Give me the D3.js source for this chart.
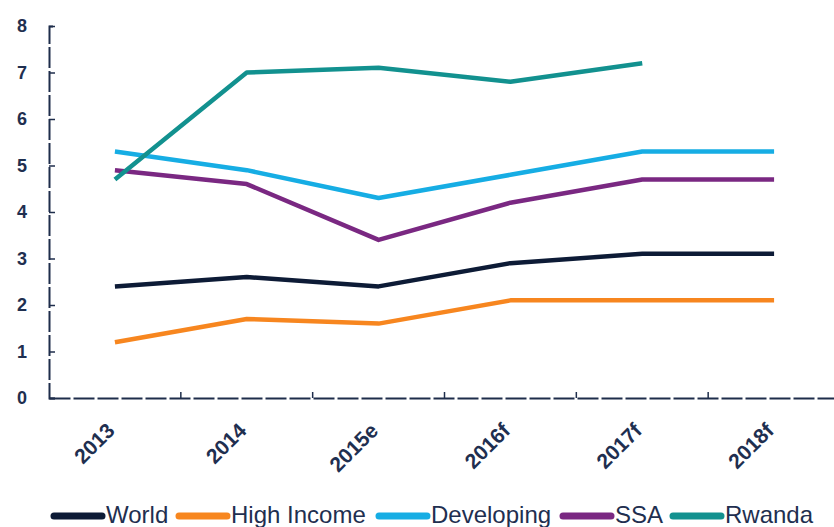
<!DOCTYPE html>
<html>
<head>
<meta charset="utf-8">
<script src="https://cdn.jsdelivr.net/npm/d3@7"></script>
<style>
    body { margin: 0; background: #fff; }
    svg { display: block; }
</style>
</head>
<body>
<div id="chart"></div>
<script>
// chart values
const years = ['2013', '2014', '2015e', '2016f', '2017f', '2018f'];
const world = [2.4, 2.6, 2.4, 2.9, 3.1, 3.1];
const highIncome = [1.2, 1.7, 1.6, 2.1, 2.1, 2.1];
const developing = [5.3, 4.9, 4.3, 4.8, 5.3, 5.3];
const ssa = [4.9, 4.6, 3.4, 4.2, 4.7, 4.7];
const rwanda = [4.7, 7.0, 7.1, 6.8, 7.2, null];
const yTicks = [0, 1, 2, 3, 4, 5, 6, 7, 8];

const series = [
    { name: 'World', values: world, color: '#0d1b36' },
    { name: 'High Income', values: highIncome, color: '#f7861f' },
    { name: 'Developing', values: developing, color: '#16ade4' },
    { name: 'SSA', values: ssa, color: '#7a2882' },
    { name: 'Rwanda', values: rwanda, color: '#12918f' }
];

const width = 834, height = 527;
const axisColor = '#1e2d4b';
const textColor = '#1f2f50';

const svg = d3.select('#chart').append('svg')
    .attr('width', width)
    .attr('height', height);

const x = d3.scaleBand()
    .domain(years)
    .range([49, 840]);

const y = d3.scaleLinear()
    .domain([0, 8])
    .range([398, 26]);

// inward ticks, dashed-looking axis lines
const yAxis = svg.append('g')
    .attr('transform', 'translate(49,0)')
    .call(d3.axisLeft(y).tickValues(yTicks).tickSize(-6).tickPadding(22).tickSizeOuter(-6));

const xAxis = svg.append('g')
    .attr('transform', 'translate(0,398)')
    .call(d3.axisBottom(x).tickSize(0).tickFormat(''));

[yAxis, xAxis].forEach(g => {
    g.select('.domain')
        .attr('stroke', axisColor)
        .attr('stroke-width', 2)
        .attr('stroke-dasharray', '21,3');
    g.selectAll('.tick line').attr('stroke', axisColor).attr('stroke-width', 1.5);
});

yAxis.selectAll('.tick text')
    .attr('fill', textColor)
    .style('font-family', 'Liberation Sans, Arial, sans-serif')
    .style('font-weight', 'bold')
    .style('font-size', '18px');

// x ticks sit at band boundaries
xAxis.selectAll('.boundary')
    .data(years.slice(1))
    .join('line')
    .attr('x1', d => x(d))
    .attr('x2', d => x(d))
    .attr('y1', 0)
    .attr('y2', -6)
    .attr('stroke', axisColor)
    .attr('stroke-width', 1.5);

svg.append('g')
    .selectAll('text')
    .data(years)
    .join('text')
    .attr('transform', d => `translate(${x(d) + x.bandwidth() / 2 + 1},432) rotate(-45)`)
    .attr('text-anchor', 'end')
    .attr('fill', textColor)
    .style('font-family', 'Liberation Sans, Arial, sans-serif')
    .style('font-weight', 'bold')
    .style('font-size', '21px')
    .text(d => d);

const line = d3.line()
    .defined(d => d.v !== null)
    .x(d => x(d.year) + x.bandwidth() / 2)
    .y(d => y(d.v));

svg.append('g')
    .selectAll('path')
    .data(series)
    .join('path')
    .attr('fill', 'none')
    .attr('stroke', d => d.color)
    .attr('stroke-width', 4.5)
    .attr('stroke-linejoin', 'round')
    .attr('d', d => line(d.values.map((v, i) => ({ year: years[i], v: v }))));

// legend along the bottom
const legendX = [54, 179, 379, 563, 673];
const legend = svg.append('g')
    .selectAll('g')
    .data(series)
    .join('g')
    .attr('transform', (d, i) => `translate(${legendX[i]},516)`);

legend.append('line')
    .attr('x1', 0)
    .attr('x2', 48)
    .attr('stroke', d => d.color)
    .attr('stroke-width', 7)
    .attr('stroke-linecap', 'round');

legend.append('text')
    .attr('x', 52)
    .attr('y', 7)
    .attr('fill', textColor)
    .style('font-family', 'Liberation Sans, Arial, sans-serif')
    .style('font-size', '24px')
    .text(d => d.name);
</script>
</body>
</html>
